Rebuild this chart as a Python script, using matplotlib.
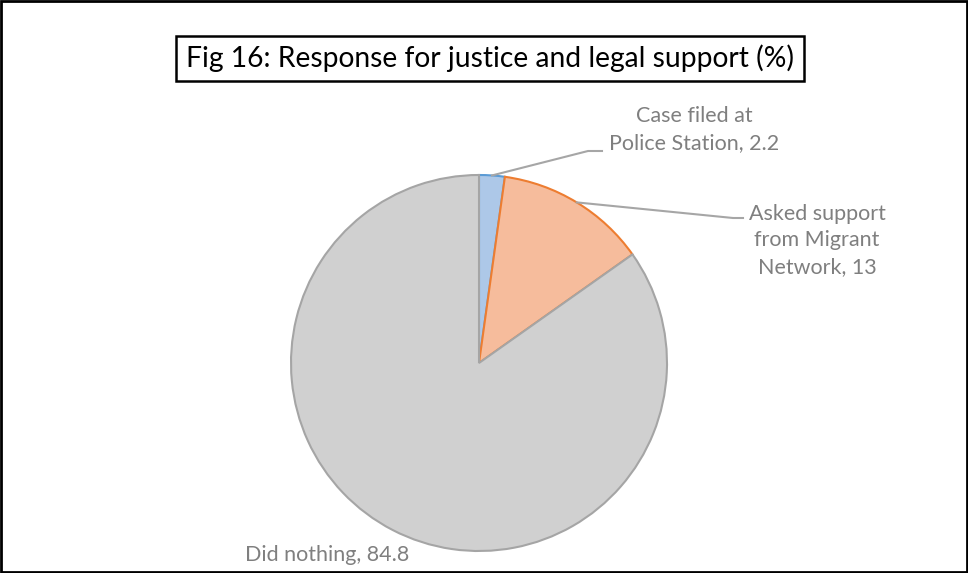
import numpy as np
import matplotlib.pyplot as plt
from matplotlib.patches import Rectangle

plt.rcParams['font.family'] = ['Lato', 'DejaVu Sans']

# data
labels = ["Case filed at\nPolice Station", "Asked support\nfrom Migrant\nNetwork", "Did nothing"]
values = [2.2, 13, 84.8]
fills = ["#adc8e8", "#f6bc9c", "#d0d0d0"]
edges = ["#5b9bd5", "#ed7d31", "#a5a5a5"]

W, H = 968, 573
fig = plt.figure(figsize=(W / 100, H / 100), dpi=100)
ax = fig.add_axes([0, 0, 1, 1])

# pie geometry in pixel coords (y up)
cx, cy, r = 479, H - 363, 188
wedges, _ = ax.pie(values, colors=fills, startangle=90, counterclock=False,
                   center=(cx, cy), radius=r, frame=True,
                   wedgeprops=dict(linewidth=1.5))
for w, ec in zip(wedges, edges):
    w.set_edgecolor(ec)
ax.set_xlim(0, W)
ax.set_ylim(0, H)
ax.axis("off")

# label positions: (text x, text y, elbow x, elbow y, line end x)
lab_pos = [
    (694, H - 129.5, 588, H - 151, 602),
    (817, H - 240.5, 733, H - 218, 743),
    (327, H - 555, None, None, None),
]
grey = "#7f7f7f"
for w, lab, val, (tx, ty, ex, ey, lx) in zip(wedges, labels, values, lab_pos):
    ax.text(tx, ty, f"{lab}, {val:g}", ha="center", va="center",
            fontsize=15.5, color=grey, linespacing=1.4)
    if ex is not None:
        mid = np.deg2rad((w.theta1 + w.theta2) / 2)
        px, py = cx + r * np.cos(mid), cy + r * np.sin(mid)
        ax.plot([px, ex, lx], [py, ey, ey], color="#a6a6a6", lw=1.5)

# title with box
ax.add_patch(Rectangle((176, H - 81), 628, 45, fill=False, ec="black", lw=1.8))
ax.text(490, H - 58, "Fig 16: Response for justice and legal support (%)",
        ha="center", va="center", fontsize=20.3, color="black")

# outer border
ax.add_patch(Rectangle((1, 1), W - 2, H - 2, fill=False, ec="black", lw=2))

fig.savefig("out.png", dpi=100)
